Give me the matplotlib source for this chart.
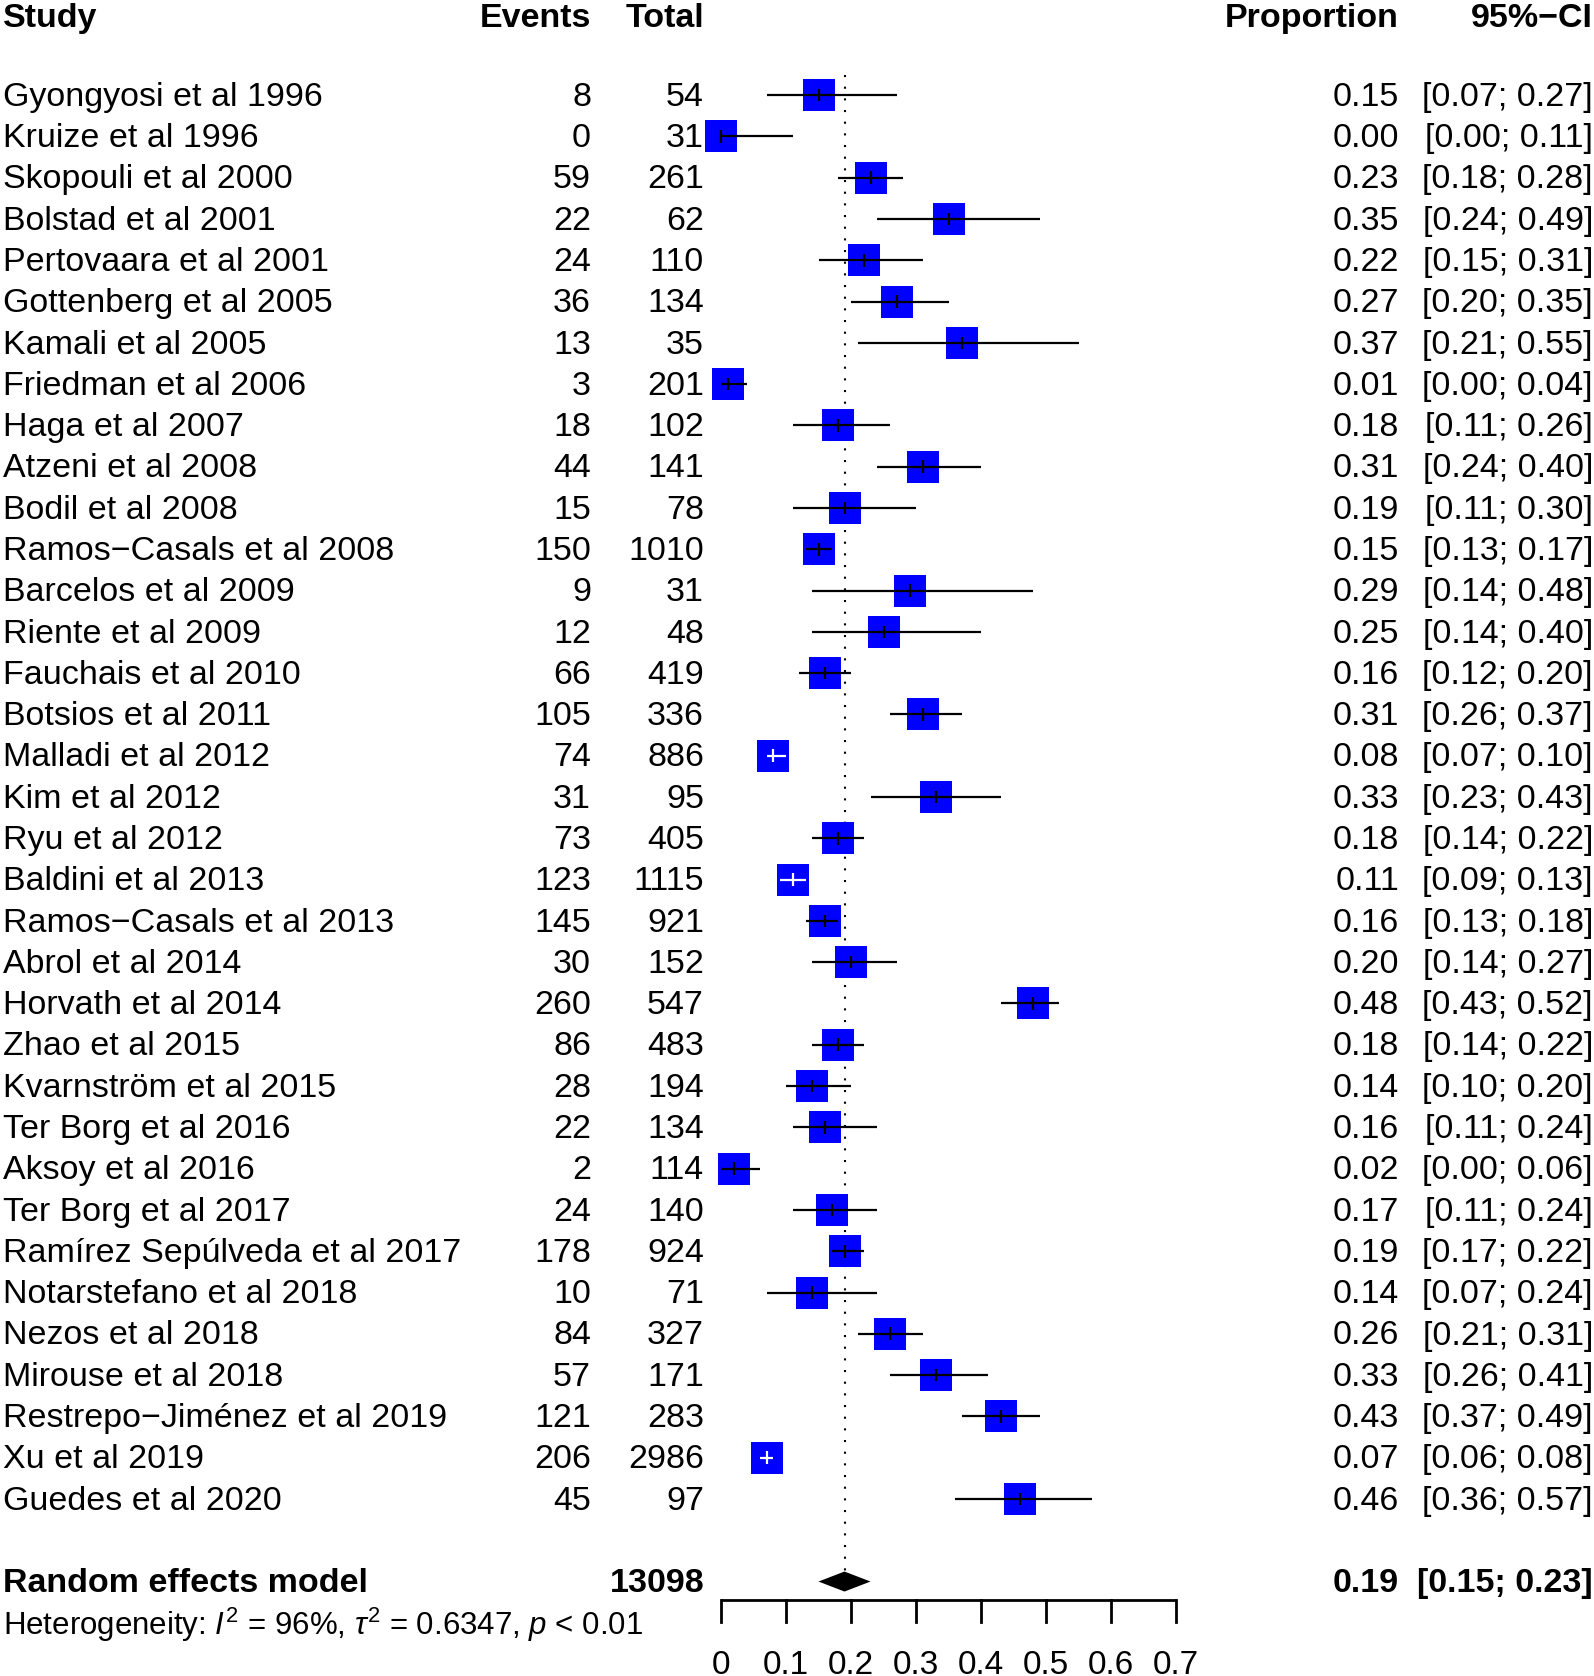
import matplotlib
matplotlib.use('Agg')
import matplotlib.pyplot as plt
import matplotlib.transforms as mtransforms
import numpy as np

plt.rcParams['font.family'] = ['Liberation Sans', 'DejaVu Sans']
plt.rcParams['mathtext.fontset'] = 'custom'
plt.rcParams['mathtext.rm'] = 'Liberation Sans'
plt.rcParams['mathtext.it'] = 'Liberation Sans:italic'

# --- data
studies = ["Gyongyosi et al 1996", "Kruize et al 1996", "Skopouli et al 2000",
           "Bolstad et al 2001", "Pertovaara et al 2001", "Gottenberg et al 2005",
           "Kamali et al 2005", "Friedman et al 2006", "Haga et al 2007",
           "Atzeni et al 2008", "Bodil et al 2008", "Ramos\u2212Casals et al 2008",
           "Barcelos et al 2009", "Riente et al 2009", "Fauchais et al 2010",
           "Botsios et al 2011", "Malladi et al 2012", "Kim et al 2012",
           "Ryu et al 2012", "Baldini et al 2013", "Ramos\u2212Casals et al 2013",
           "Abrol et al 2014", "Horvath et al 2014", "Zhao et al 2015",
           "Kvarnstr\u00f6m et al 2015", "Ter Borg et al 2016", "Aksoy et al 2016",
           "Ter Borg et al 2017", "Ram\u00edrez Sep\u00falveda et al 2017",
           "Notarstefano et al 2018", "Nezos et al 2018", "Mirouse et al 2018",
           "Restrepo\u2212Jim\u00e9nez et al 2019", "Xu et al 2019", "Guedes et al 2020"]
events = [8, 0, 59, 22, 24, 36, 13, 3, 18, 44, 15, 150, 9, 12, 66, 105, 74, 31,
          73, 123, 145, 30, 260, 86, 28, 22, 2, 24, 178, 10, 84, 57, 121, 206, 45]
totals = [54, 31, 261, 62, 110, 134, 35, 201, 102, 141, 78, 1010, 31, 48, 419,
          336, 886, 95, 405, 1115, 921, 152, 547, 483, 194, 134, 114, 140, 924,
          71, 327, 171, 283, 2986, 97]
prop = [0.15, 0.00, 0.23, 0.35, 0.22, 0.27, 0.37, 0.01, 0.18, 0.31, 0.19, 0.15,
        0.29, 0.25, 0.16, 0.31, 0.08, 0.33, 0.18, 0.11, 0.16, 0.20, 0.48, 0.18,
        0.14, 0.16, 0.02, 0.17, 0.19, 0.14, 0.26, 0.33, 0.43, 0.07, 0.46]
lower = [0.07, 0.00, 0.18, 0.24, 0.15, 0.20, 0.21, 0.00, 0.11, 0.24, 0.11, 0.13,
         0.14, 0.14, 0.12, 0.26, 0.07, 0.23, 0.14, 0.09, 0.13, 0.14, 0.43, 0.14,
         0.10, 0.11, 0.00, 0.11, 0.17, 0.07, 0.21, 0.26, 0.37, 0.06, 0.36]
upper = [0.27, 0.11, 0.28, 0.49, 0.31, 0.35, 0.55, 0.04, 0.26, 0.40, 0.30, 0.17,
         0.48, 0.40, 0.20, 0.37, 0.10, 0.43, 0.22, 0.13, 0.18, 0.27, 0.52, 0.22,
         0.20, 0.24, 0.06, 0.24, 0.22, 0.24, 0.31, 0.41, 0.49, 0.08, 0.57]
# CI fits inside the square -> drawn in white
ci_inside = ["Malladi et al 2012", "Baldini et al 2013", "Xu et al 2019"]

pooled = 0.19
pooled_lo = 0.15
pooled_hi = 0.23
pooled_n = 13098
het_text = r"Heterogeneity: $\mathit{I}^2$ = 96%, $\tau^2$ = 0.6347, $\mathit{p}$ < 0.01"
xticks = [0, 0.1, 0.2, 0.3, 0.4, 0.5, 0.6, 0.7]
xticklabels = ["0", "0.1", "0.2", "0.3", "0.4", "0.5", "0.6", "0.7"]

# --- layout (pixels of the 1594x1676 output)
W, H = 1594, 1676
row0, dy = 95.1, 41.29
fs = 24.5
toff = 2.2 / dy   # text sits a touch lower than the marks

fig = plt.figure(figsize=(W / 100, H / 100), dpi=100)
fx = fig.add_axes([721 / W, 0, 455 / W, 1])
fx.set_xlim(0, 0.7)
fx.set_ylim((H - row0) / dy, -row0 / dy)
fx.axis('off')
tr = mtransforms.blended_transform_factory(fig.transFigure, fx.transData)


def col(px):
    return px / W


def put(x, y, s, ha, bold=False, size=fs):
    fx.text(col(x), y + toff, s, transform=tr, ha=ha, va='center', fontsize=size,
            fontweight='bold' if bold else 'normal', clip_on=False)


# header
yh = -1.92
put(3, yh, "Study", 'left', True)
put(591, yh, "Events", 'right', True)
put(704, yh, "Total", 'right', True)
put(1399, yh, "Proportion", 'right', True)
put(1593, yh, "95%\u2212CI", 'right', True)

# study rows
rows = np.arange(len(studies))
for i in rows:
    put(3, i, studies[i], 'left')
    put(591, i, str(events[i]), 'right')
    put(704, i, str(totals[i]), 'right')
    put(1399, i, "%.2f" % prop[i], 'right')
    put(1593, i, "[%.2f; %.2f]" % (lower[i], upper[i]), 'right')

# reference line at pooled estimate
ymod = len(studies) + 1
dh = 10 / dy
fx.plot([pooled, pooled], [-0.49, ymod - dh], color='black', lw=1.5,
        linestyle=(0, (1, 4.6)), clip_on=False)

# squares + CIs
fx.scatter(prop, rows, marker='s', s=530, color='#0000ff', linewidths=0,
           zorder=3, clip_on=False)
tick_h = 6.3 / dy
for i in rows:
    c = 'white' if studies[i] in ci_inside else 'black'
    fx.plot([lower[i], upper[i]], [i, i], color=c, lw=1.6, zorder=4,
            solid_capstyle='butt', clip_on=False)
    fx.plot([prop[i], prop[i]], [i - tick_h, i + tick_h], color=c, lw=1.6,
            zorder=4, solid_capstyle='butt', clip_on=False)

# pooled model
fx.fill([pooled_lo, pooled, pooled_hi, pooled], [ymod, ymod - dh, ymod, ymod + dh],
        color='black', lw=0, clip_on=False)
put(3, ymod, "Random effects model", 'left', True)
put(704, ymod, str(pooled_n), 'right', True)
put(1399, ymod, "%.2f" % pooled, 'right', True)
put(1593, ymod, "[%.2f; %.2f]" % (pooled_lo, pooled_hi), 'right', True)
put(3, ymod + 1, het_text, 'left', size=22.5)

# x axis
yax = (1600 - row0) / dy
ytk = (1622 - row0) / dy
ylab = (1665 - row0) / dy
fx.plot([xticks[0], xticks[-1]], [yax, yax], color='black', lw=2, clip_on=False,
        solid_capstyle='butt')
for t, lab in zip(xticks, xticklabels):
    fx.plot([t, t], [yax, ytk], color='black', lw=2, clip_on=False)
    fx.text(t, ylab, lab, ha='center', va='center', fontsize=24, clip_on=False)

fig.savefig('out.png', dpi=100)
